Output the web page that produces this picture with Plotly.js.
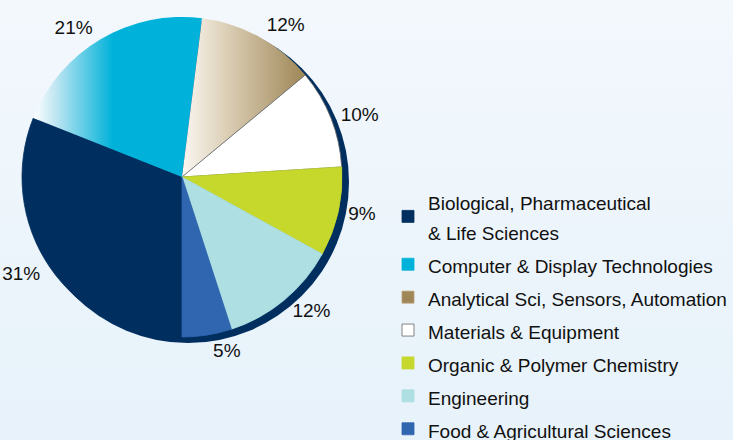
<!DOCTYPE html>
<html><head><meta charset="utf-8">
<script src="https://cdn.plot.ly/plotly-3.0.1.min.js"></script>
<style>html,body{margin:0;padding:0;}
body{background:linear-gradient(to bottom,#f3f8fd,#e7f2fa);width:733px;height:440px;overflow:hidden;}
#chart{width:733px;height:440px;}</style>
</head><body><div id="chart"></div>
<script>
const categories = [
  "Biological, Pharmaceutical<br>& Life Sciences",
  "Computer & Display Technologies",
  "Analytical Sci, Sensors, Automation",
  "Materials & Equipment",
  "Organic & Polymer Chemistry",
  "Engineering",
  "Food & Agricultural Sciences"
];
const shares = [31, 21, 12, 10, 9, 12, 5];
const colors = ["#002f5f", "#00b2d9", "#9e8656", "#ffffff", "#c5d82b", "#addfe3", "#3066b0"];
const lineColors = ["#002f5f", "#00b2d9", "#b9a27a", "#666666", "#c5d82b", "#addfe3", "#3066b0"];

const W = 733, H = 440;
function dom(cx, cy, r) {
  return {x: [(cx - r) / W, (cx + r) / W], y: [1 - (cy + r) / H, 1 - (cy - r) / H]};
}

const shadow = {
  type: "pie", values: [1], labels: ["rim"], marker: {colors: ["#002f5f"], line: {width: 0}},
  textinfo: "none", hoverinfo: "skip", showlegend: false, sort: false,
  domain: dom(188, 182, 161)
};
const main = {
  type: "pie", values: shares,
  labels: categories.map(c => '<span style="font-size:19px">' + c + '</span>'),
  sort: false, direction: "clockwise", rotation: 180,
  marker: {colors: colors, line: {color: lineColors, width: 0.8}},
  textinfo: "none", hoverinfo: "skip",
  domain: dom(182, 177, 160)
};
// transparent ring that only carries the outside percentage labels
const labelRing = {
  type: "pie", values: shares, labels: categories.map(c => "lbl " + c),
  sort: false, direction: "clockwise", rotation: 180,
  marker: {colors: shares.map(() => "rgba(0,0,0,0)"), line: {width: 0}},
  textinfo: "percent", texttemplate: "%{percent:.0%}", textposition: "outside",
  outsidetextfont: {family: "Liberation Sans, Arial, sans-serif", size: 19, color: "#111"},
  hoverinfo: "skip", showlegend: false,
  domain: dom(182, 177, 165)
};

const layout = {
  width: W, height: H,
  margin: {l: 0, r: 0, t: 0, b: 0, autoexpand: false},
  paper_bgcolor: "rgba(0,0,0,0)", plot_bgcolor: "rgba(0,0,0,0)",
  showlegend: true,
  legend: {
    x: 388 / W, xanchor: "left", y: 1 - 180 / H, yanchor: "top",
    maxheight: 600,
    bgcolor: "rgba(0,0,0,0)",
    font: {family: "Liberation Sans, Arial, sans-serif", size: 23, color: "#111"}
  }
};
Plotly.newPlot("chart", [shadow, main, labelRing], layout, {displayModeBar: false, staticPlot: true}).then(function (gd) {
  const svg = gd.querySelector("svg.main-svg");
  const ns = "http://www.w3.org/2000/svg";
  let defs = svg.querySelector("defs");
  function grad(id, stops) {
    const g = document.createElementNS(ns, "linearGradient");
    g.setAttribute("id", id);
    g.setAttribute("x1", "0"); g.setAttribute("y1", "0");
    g.setAttribute("x2", "1"); g.setAttribute("y2", "0");
    stops.forEach(function (s) {
      const st = document.createElementNS(ns, "stop");
      st.setAttribute("offset", s[0]);
      st.setAttribute("stop-color", s[1]);
      g.appendChild(st);
    });
    defs.appendChild(g);
  }
  grad("gradComputer", [[0, "#ffffff"], [0.12, "#c6e8f3"], [0.47, "#00b2d9"], [1, "#00b2d9"]]);
  grad("gradAnalytical", [[0, "#faf7f2"], [0.35, "#ddd0b8"], [1, "#9e8656"]]);
  const traces = gd.querySelectorAll(".pielayer .trace");
  const mainTrace = traces[1];
  const slices = mainTrace.querySelectorAll(".slice path.surface");
  if (slices[1]) { slices[1].style.fill = "url(#gradComputer)"; slices[1].style.stroke = "none"; }
  if (slices[2]) { slices[2].style.fill = "url(#gradAnalytical)"; slices[2].style.stroke = "none"; }
});
</script></body></html>
